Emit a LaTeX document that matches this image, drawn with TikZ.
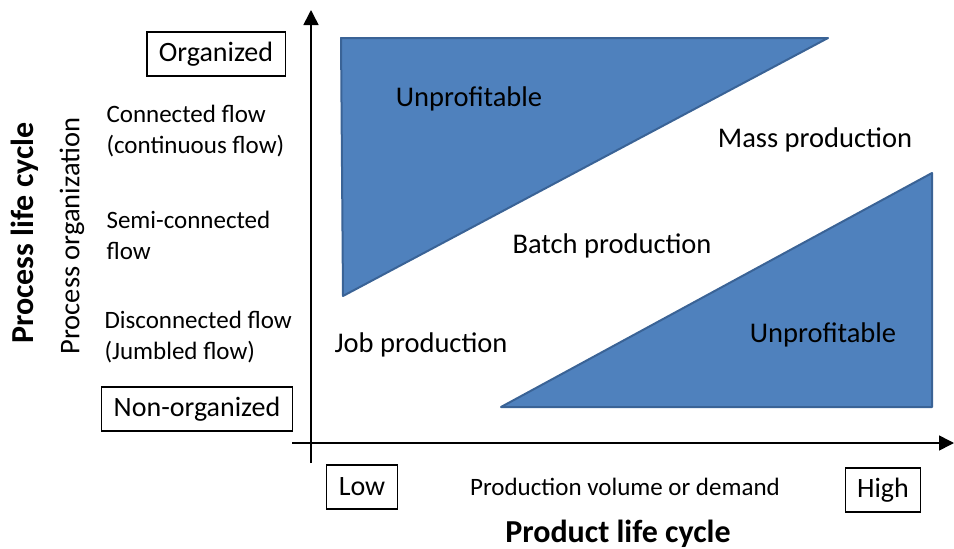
\documentclass[tikz,border=0pt]{standalone}
\usepackage{fontspec}
\setmainfont{Carlito}
\usetikzlibrary{arrows.meta}
\definecolor{triblue}{HTML}{4F81BD}
\definecolor{triedge}{HTML}{3A6396}

\begin{document}
\begin{tikzpicture}[x=1pt,y=-1pt,>={Triangle[length=15pt,width=15pt]},
  lbl/.style={font=\fontsize{28.5}{34}\selectfont},
  side/.style={font=\fontsize{25}{31}\selectfont,align=left,anchor=west},
  tag/.style={draw,line width=1.2pt,font=\fontsize{28}{34}\selectfont,
    inner xsep=12pt,minimum height=44pt},
  title/.style={font=\fontsize{32}{38}\selectfont\bfseries},
  zone/.style={fill=triblue,draw=triedge,line width=2pt,line join=round}]
\useasboundingbox (0,0) rectangle (954,549);
% axes
\coordinate (o) at (311,443);
\coordinate (ytop) at (311,10);
\coordinate (ybot) at (311,463);
\coordinate (xleft) at (292,443);
\coordinate (xtip) at (954,443);
\draw[line width=1.6pt,->] (ybot)--(ytop);
\draw[line width=1.6pt,->] (xleft)--(xtip);
% unprofitable zones
\draw[zone] (341,38)--(828,38)--(343,296)--cycle;
\draw[zone] (501,407)--(932,407)--(932,173)--cycle;
\node[lbl] (unprofA) at (469,99) {Unprofitable};
\node[lbl] (unprofB) at (823,335) {Unprofitable};
\node[lbl] (mass) at (815,140) {Mass production};
\node[lbl] (batch) at (612,246) {Batch production};
\node[lbl] (job) at (421,345) {Job production};
% vertical axis labels
\node[tag] (org) at (216,54) {Organized};
\node[tag] (nonorg) at (197,409) {Non-organized};
\node[side] (conn) at (103,131) {Connected flow\\(continuous flow)};
\node[side] (semi) at (103,235) {Semi-connected\\flow};
\node[side] (disc) at (101,337) {Disconnected flow\\(Jumbled flow)};
\node[lbl,rotate=90] (procorg) at (72,236) {Process organization};
\node[title,rotate=90] (proclc) at (25,233) {Process life cycle};
% horizontal axis labels
\node[tag] (low) at (362,487) {Low};
\node[tag] (high) at (883,490) {High};
\node[side,anchor=center] (vol) at (625,487) {Production volume or demand};
\node[title] (prodlc) at (618,534) {Product life cycle};
\end{tikzpicture}
\end{document}
